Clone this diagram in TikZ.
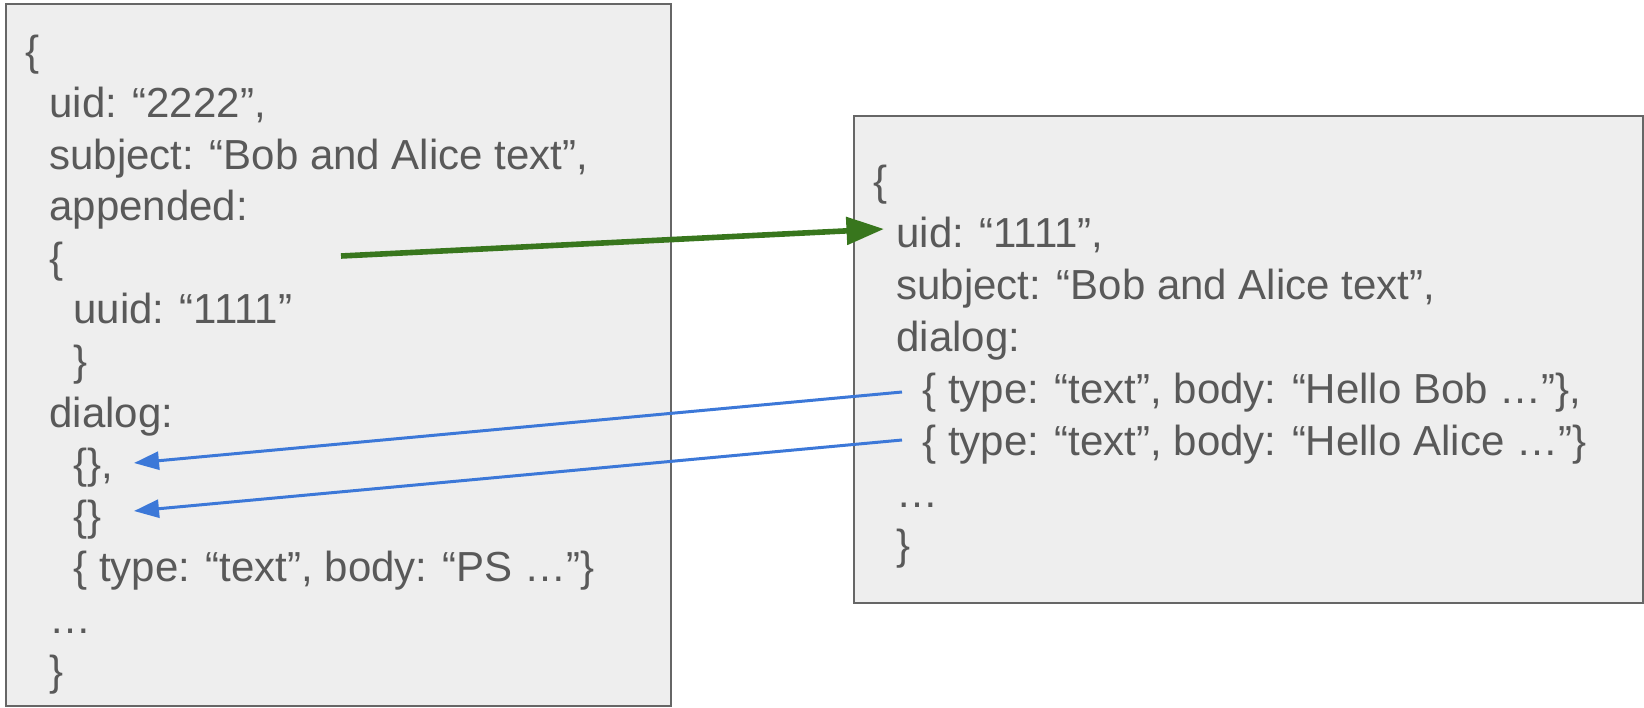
\documentclass[tikz,border=0pt]{standalone}
\usepackage{fontspec}
\setmainfont{Liberation Sans}
\usetikzlibrary{arrows.meta,calc}
\definecolor{txt}{HTML}{595959}
\definecolor{boxfill}{HTML}{EEEEEE}
\definecolor{boxline}{HTML}{666666}
\definecolor{gr}{HTML}{38761D}
\definecolor{bl}{HTML}{3C78D8}
\begin{document}
\begin{tikzpicture}[x=0.5pt,y=-0.5pt,
  code/.style={anchor=base west, inner sep=0pt, text=txt, font=\fontsize{21}{25}\selectfont},
  panel/.style={draw=boxline, fill=boxfill, line width=0.75pt},
  garrow/.style={draw=gr, line width=2.8pt, -{Triangle[length=18.75pt,width=13.5pt]}},
  barrow/.style={draw=bl, line width=1.5pt, -{Triangle[length=12.5pt,width=9pt]}}]
\useasboundingbox (0,0) rectangle (1644,707);
% panels
\draw[panel] (6,4) rectangle (671,706);
\draw[panel] (854,116) rectangle (1643,603);
% left document
\node[code] (l0)  at (25,65)  {\{};
\node[code] (l1)  at (49,117) {uid: “2222”,};
\node[code] (l2)  at (49,169) {subject: “Bob and Alice text”,};
\node[code] (l3)  at (49,220) {appended:};
\node[code] (l4)  at (49,272) {\{};
\node[code] (l5)  at (73,323) {uuid: “1111”};
\node[code] (l6)  at (73,375) {\}};
\node[code] (l7)  at (49,427) {dialog:};
\node[code] (lemp1) at (73,478) {\{\},};
\node[code] (lemp2) at (73,530) {\{\}};
\node[code] (l10) at (73,581) {\{ type: “text”, body: “PS …”\}};
\node[code] (l11) at (49,633) {…};
\node[code] (l12) at (49,685) {\}};
% right document
\node[code] (r0) at (873,195) {\{};
\node[code] (ruid) at (896,247) {uid: “1111”,};
\node[code] (r2) at (896,299) {subject: “Bob and Alice text”,};
\node[code] (r3) at (896,351) {dialog:};
\node[code] (rbob) at (922,403) {\{ type: “text”, body: “Hello Bob …”\},};
\node[code] (ralice) at (922,455) {\{ type: “text”, body: “Hello Alice …”\}};
\node[code] (r6) at (896,507) {…};
\node[code] (r7) at (896,559) {\}};
% connectors
\coordinate (gstart) at (341,256);
\draw[garrow] (gstart) -- ($(ruid.base west)+(-12,-18)$);
\draw[barrow] ($(rbob.base west)+(-20,-11)$) -- ($(lemp1.base west)+(61,-15)$);
\draw[barrow] ($(ralice.base west)+(-20,-15)$) -- ($(lemp2.base west)+(61,-19)$);
\end{tikzpicture}
\end{document}
